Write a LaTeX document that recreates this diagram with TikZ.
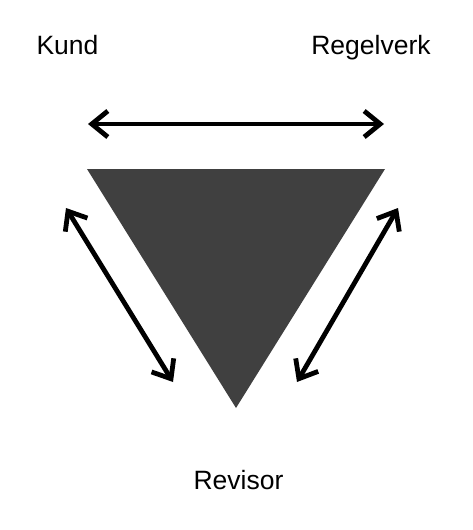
\documentclass[tikz,border=0pt]{standalone}
\usepackage{fontspec}
\setmainfont{Liberation Sans}
\usetikzlibrary{arrows.meta}
\definecolor{tri}{HTML}{404040}
\begin{document}
\begin{tikzpicture}[x=1pt,y=-1pt,
  lbl/.style={anchor=base,inner sep=0pt,font=\fontsize{26.5}{31}\selectfont},
  dbl/.style={line width=4.8pt,{Straight Barb[length=16pt,width=26pt,line width=4.8pt]}-{Straight Barb[length=16pt,width=26pt,line width=4.8pt]}}]
\useasboundingbox (0,0) rectangle (472,530);
\fill[tri] (87,169) -- (385,169) -- (236,408) -- cycle;
\node[lbl] (kund) at (67.5,54) {Kund};
\node[lbl] (regel) at (371,54) {Regelverk};
\node[lbl] (rev) at (238.5,489) {Revisor};
\coordinate (a1) at (88,124);
\coordinate (a2) at (384,124);
\coordinate (b1) at (66,208);
\coordinate (b2) at (173,382);
\coordinate (c1) at (398,208);
\coordinate (c2) at (297,382);
\draw[dbl] (a1) -- (a2);
\draw[dbl] (b1) -- (b2);
\draw[dbl] (c1) -- (c2);
\end{tikzpicture}
\end{document}
